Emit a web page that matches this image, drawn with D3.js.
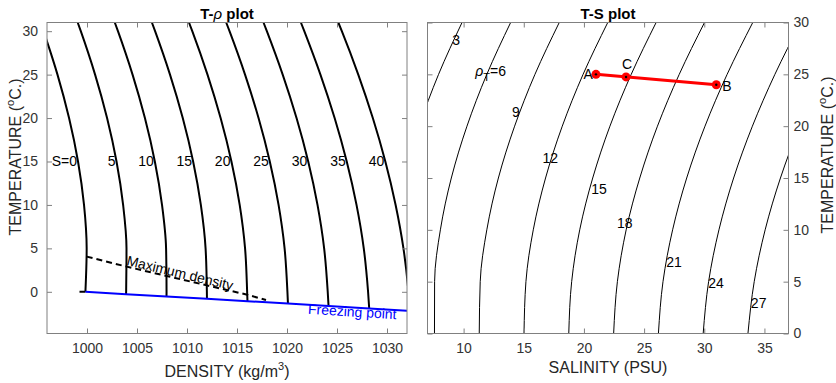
<!DOCTYPE html>
<html>
<head>
<meta charset="utf-8">
<script src="https://cdn.jsdelivr.net/npm/d3@7"></script>
<style>
body { margin: 0; background: #fff; }
text { font-family: "Liberation Sans", Arial, sans-serif; }
</style>
</head>
<body>
<svg width="836" height="383"></svg>
<script>
//T-rho plot data: density (kg/m3) of each isohaline at these temperatures
const temps = [0, 5, 10, 15, 20, 25, 30, 31];
const salinities = [0, 5, 10, 15, 20, 25, 30, 35, 40];
const densities = [
    [999.843, 999.967, 999.702, 999.102, 998.206, 997.048, 995.651, 995.35],
    [1003.914, 1003.950, 1003.612, 1002.952, 1002.007, 1000.809, 999.380, 999.07],
    [1007.955, 1007.908, 1007.501, 1006.784, 1005.792, 1004.556, 1003.095, 1002.78],
    [1011.987, 1011.858, 1011.385, 1010.613, 1009.576, 1008.301, 1006.809, 1006.49],
    [1016.014, 1015.807, 1015.269, 1014.444, 1013.362, 1012.050, 1010.527, 1010.20],
    [1020.042, 1019.759, 1019.157, 1018.279, 1017.154, 1015.805, 1014.252, 1013.92],
    [1024.072, 1023.714, 1023.051, 1022.122, 1020.954, 1019.569, 1017.985, 1017.65],
    [1028.107, 1027.676, 1026.952, 1025.973, 1024.763, 1023.343, 1021.729, 1021.39],
    [1032.148, 1031.645, 1030.862, 1029.834, 1028.582, 1027.127, 1025.483, 1025.13]
];
const freezeTemps = [0, -0.27, -0.54, -0.81, -1.08, -1.36, -1.64, -1.92, -2.21];
const freezeDensities = [999.843, 1003.903, 1007.950, 1011.995, 1016.046, 1020.096, 1024.154, 1028.22, 1032.30];
const maxDensTemps = [4.05, 2.90, 1.82, 0.74, -0.33, -0.95];
const maxDensDensities = [999.97, 1003.96, 1007.965, 1011.99, 1016.02, 1017.9];
const stubDensities = [999.25, 999.843];
const stubTemps = [0, 0];

//T-S plot data: salinity of each density contour at these temperatures
const sigmaLevels = [3, 6, 9, 12, 15, 18, 21, 24, 27];
const contourTemps = [0, 5, 10, 15, 20, 25, 30];
const contourSalinities = [
    [3.88, 3.81, 4.22, 5.06, 6.31, 7.92, 9.87],
    [7.58, 7.59, 8.07, 8.98, 10.28, 11.93, 13.91],
    [11.30, 11.38, 11.93, 12.89, 14.24, 15.93, 17.95],
    [15.02, 15.18, 15.79, 16.81, 18.20, 19.93, 21.98],
    [18.74, 18.98, 19.65, 20.73, 22.16, 23.93, 26.00],
    [22.47, 22.78, 23.51, 24.64, 26.11, 27.92, 30.02],
    [26.19, 26.57, 27.37, 28.54, 30.06, 31.90, 34.03],
    [29.91, 30.36, 31.22, 32.44, 34.00, 35.87, 38.02],
    [33.63, 34.15, 35.06, 36.33, 37.93, 39.83, 42.00]
];
const labelSal = [9.38, 12.25, 14.35, 17.2, 21.25, 23.39, 27.48, 30.98, 34.52];
const labelTemp = [28.33, 25.27, 21.35, 16.9, 13.9, 10.62, 6.92, 4.83, 2.9];

const pointNames = ['A', 'C', 'B'];
const pointSal = [21, 23.5, 31];
const pointTemp = [25, 24.75, 24];

//Tick values
const rhoTicks = [1000, 1005, 1010, 1015, 1020, 1025, 1030];
const salTicks = [10, 15, 20, 25, 30, 35];
const tempTicks = [0, 5, 10, 15, 20, 25, 30];

const svg = d3.select('svg');
const axisGrey = '#808080';
const tickText = '#333';

//Scales
const xL = d3.scaleLinear().domain([996, 1032]).range([47, 407]);
const yL = d3.scaleLinear().domain([-4.8, 31]).range([333.5, 22.5]);
const xR = d3.scaleLinear().domain([7, 37]).range([427.5, 788.5]);
const yR = d3.scaleLinear().domain([0, 30]).range([333.5, 22.5]);

//Clip paths
const defs = svg.append('defs');
defs.append('clipPath').attr('id', 'clipL')
.append('rect').attr('x', 47).attr('y', 22.5).attr('width', 360).attr('height', 311);
defs.append('clipPath').attr('id', 'clipR')
.append('rect').attr('x', 427.5).attr('y', 22.5).attr('width', 361).attr('height', 311);

function styleAxis(g) {
    g.select('.domain').remove();
    g.selectAll('line').attr('stroke', axisGrey);
    g.selectAll('text')
    .attr('font-family', '"Liberation Sans", Arial, sans-serif')
    .attr('font-size', 14)
    .attr('fill', tickText);
}

function drawAxes(x, y, xTicks, left, right, top, bottom, yOnRight) {
    const fmt = d3.format('d');
    svg.append('g')
    .attr('transform', `translate(0, ${bottom})`)
    .call(d3.axisBottom(x).tickValues(xTicks).tickFormat(fmt).tickSize(-5).tickPadding(10))
    .call(styleAxis);
    svg.append('g')
    .attr('transform', `translate(0, ${top})`)
    .call(d3.axisTop(x).tickValues(xTicks).tickSize(-5).tickFormat(''))
    .call(styleAxis);
    svg.append('g')
    .attr('transform', `translate(${left}, 0)`)
    .call(d3.axisLeft(y).tickValues(tempTicks).tickSize(-5).tickPadding(9).tickFormat(yOnRight ? '' : fmt))
    .call(styleAxis);
    svg.append('g')
    .attr('transform', `translate(${right}, 0)`)
    .call(d3.axisRight(y).tickValues(tempTicks).tickSize(-5).tickPadding(5).tickFormat(yOnRight ? fmt : ''))
    .call(styleAxis);
    svg.append('rect')
    .attr('x', left).attr('y', top)
    .attr('width', right - left).attr('height', bottom - top)
    .attr('fill', 'none').attr('stroke', axisGrey).attr('stroke-width', 1);
}

//Left plot: T-rho
const plotL = svg.append('g').attr('clip-path', 'url(#clipL)');
const lineL = d3.line().x(d => xL(d.rho)).y(d => yL(d.T)).curve(d3.curveMonotoneY);

salinities.forEach((s, i) => {
    const pts = [{rho: freezeDensities[i], T: freezeTemps[i]}]
    .concat(temps.map((t, j) => ({rho: densities[i][j], T: t})).filter(d => d.T > freezeTemps[i]));
    plotL.append('path')
    .attr('d', lineL(pts))
    .attr('fill', 'none')
    .attr('stroke', '#000')
    .attr('stroke-width', 2);
});

plotL.append('path')
.attr('d', d3.line().x(d => xL(d[0])).y(d => yL(d[1]))(stubDensities.map((r, i) => [r, stubTemps[i]])))
.attr('stroke', '#000').attr('stroke-width', 2);

//Maximum density line
plotL.append('path')
.attr('d', d3.line().x(d => xL(d[0])).y(d => yL(d[1]))(maxDensDensities.map((r, i) => [r, maxDensTemps[i]])))
.attr('fill', 'none')
.attr('stroke', '#000')
.attr('stroke-width', 2)
.attr('stroke-dasharray', '6,4');

//Freezing point line
plotL.append('path')
.attr('d', d3.line().x(d => xL(d[0])).y(d => yL(d[1]))(freezeDensities.map((r, i) => [r, freezeTemps[i]])))
.attr('fill', 'none')
.attr('stroke', '#0000ff')
.attr('stroke-width', 2);

//Isohaline labels
svg.selectAll('.slabel')
.data(salinities)
.enter()
.append('text')
.classed('slabel', true)
.attr('x', (d, i) => xL(densities[i][3]) - 1)
.attr('y', yL(15) + 5)
.attr('text-anchor', 'end')
.attr('font-size', 14)
.text(d => d === 0 ? 'S=0' : d);

svg.append('text')
.attr('transform', `translate(${xL(1003.9)}, ${yL(3.09)}) rotate(13.5)`)
.attr('font-size', 14)
.text('Maximum density');

svg.append('text')
.attr('transform', `translate(${xL(1022.07)}, ${yL(-2.53)}) rotate(3.5)`)
.attr('font-size', 14)
.attr('fill', '#0000ff')
.text('Freezing point');

drawAxes(xL, yL, rhoTicks, 47, 407, 22.5, 333.5, false);

//Right plot: T-S
const plotR = svg.append('g').attr('clip-path', 'url(#clipR)');
const lineR = d3.line().x(d => xR(d.S)).y(d => yR(d.T)).curve(d3.curveMonotoneY);

sigmaLevels.forEach((lev, i) => {
    const pts = contourTemps.map((t, j) => ({S: contourSalinities[i][j], T: t}));
    plotR.append('path')
    .attr('d', lineR(pts))
    .attr('fill', 'none')
    .attr('stroke', '#000')
    .attr('stroke-width', 1);
});

//Contour labels
sigmaLevels.forEach((lev, i) => {
    const t = svg.append('text')
    .attr('x', xR(labelSal[i]))
    .attr('y', yR(labelTemp[i]))
    .attr('dy', '0.35em')
    .attr('text-anchor', 'middle')
    .attr('font-size', 14);
    if (lev === 6) {
        t.append('tspan').attr('font-style', 'italic').text('ρ');
        t.append('tspan').attr('font-size', 11).attr('dy', 5).text('T');
        t.append('tspan').attr('dy', -5).text('=6');
    } else {
        t.text(lev);
    }
});

//Mixing line A-B with point C
plotR.append('path')
.attr('d', d3.line().x(d => xR(d[0])).y(d => yR(d[1]))([[pointSal[0], pointTemp[0]], [pointSal[2], pointTemp[2]]]))
.attr('stroke', '#ff0000')
.attr('stroke-width', 3);

pointNames.forEach((name, i) => {
    const px = xR(pointSal[i]);
    const py = yR(pointTemp[i]);
    svg.append('circle').attr('cx', px).attr('cy', py).attr('r', 4.5).attr('fill', '#ff0000');
    svg.append('circle').attr('cx', px).attr('cy', py).attr('r', 1.2).attr('fill', '#000');
    const lab = svg.append('text').attr('font-size', 14).text(name);
    if (name === 'A') lab.attr('x', px - 3).attr('y', py + 5).attr('text-anchor', 'end');
    if (name === 'C') lab.attr('x', px + 1).attr('y', py - 8).attr('text-anchor', 'middle');
    if (name === 'B') lab.attr('x', px + 6).attr('y', py + 6);
});

drawAxes(xR, yR, salTicks, 427.5, 788.5, 22.5, 333.5, true);

//Titles and axis labels
const title1 = svg.append('text').attr('x', 227).attr('y', 19).attr('text-anchor', 'middle')
.attr('font-size', 15).attr('font-weight', 'bold');
title1.append('tspan').text('T-');
title1.append('tspan').attr('font-style', 'italic').attr('font-weight', 'normal').text('ρ');
title1.append('tspan').text(' plot');

svg.append('text').attr('x', 608).attr('y', 19).attr('text-anchor', 'middle')
.attr('font-size', 15).attr('font-weight', 'bold').text('T-S plot');

const xlab1 = svg.append('text').attr('x', 227).attr('y', 377).attr('text-anchor', 'middle')
.attr('font-size', 16).attr('fill', '#262626');
xlab1.append('tspan').text('DENSITY (kg/m');
xlab1.append('tspan').attr('font-size', 11).attr('dy', -7).text('3');
xlab1.append('tspan').attr('dy', 7).text(')');

svg.append('text').attr('x', 608).attr('y', 373).attr('text-anchor', 'middle')
.attr('font-size', 16).attr('fill', '#262626').text('SALINITY (PSU)');

function tempLabel(x, y) {
    const t = svg.append('text')
    .attr('transform', `translate(${x}, ${y}) rotate(-90)`)
    .attr('text-anchor', 'middle')
    .attr('font-size', 16)
    .attr('fill', '#262626');
    t.append('tspan').text('TEMPERATURE (');
    t.append('tspan').attr('font-size', 11).attr('dy', -7).text('o');
    t.append('tspan').attr('dy', 7).text('C.)');
}
tempLabel(21, 157);
tempLabel(833, 155);
</script>
</body>
</html>
